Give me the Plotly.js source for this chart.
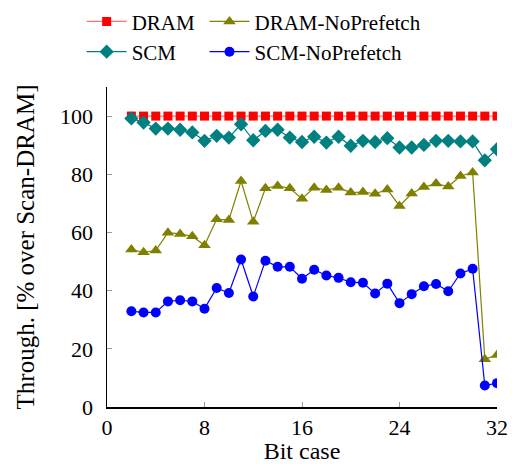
<!DOCTYPE html>
<html>
<head>
<meta charset="utf-8">
<script src="https://cdn.plot.ly/plotly-3.0.1.min.js"></script>
<style>html,body{margin:0;padding:0;background:#fff;}#chart{width:512px;height:464px;}</style>
</head>
<body>
<div id="chart"></div>
<script>
const bitCase = [2,3,4,5,6,7,8,9,10,11,12,13,14,15,16,17,18,19,20,21,22,23,24,25,26,27,28,29,30,31,32];
const dram = [100,100,100,100,100,100,100,100,100,100,100,100,100,100,100,100,100,100,100,100,100,100,100,100,100,100,100,100,100,100,100];
const dramNoPrefetch = [54.1,53.2,53.8,59.9,59.5,58.7,55.6,64.5,64.3,77.7,63.7,75.2,76.0,75.2,71.6,75.4,74.6,75.4,73.7,73.9,73.3,74.8,69.1,73.4,75.6,76.8,75.8,79.4,80.6,16.4,17.9];
const scm = [99.2,97.8,95.7,95.7,95.3,94.4,91.5,93.2,92.6,97.2,91.7,94.9,95.3,92.6,91.1,92.9,90.9,92.9,89.8,91.5,91.1,92.4,89.2,89.2,90.1,91.5,91.5,91.3,91.3,84.8,88.6];
const scmNoPrefetch = [32.9,32.5,32.5,36.3,36.7,36.3,33.8,40.9,39.2,50.7,38.0,50.3,48.2,48.2,44.1,47.2,45.2,44.4,42.9,42.7,39.0,42.4,35.7,38.8,41.5,42.3,39.8,45.9,47.5,7.4,8.2];
const xTicks = [0,8,16,24,32];
const yTicks = [0,20,40,60,80,100];

const F = 'Liberation Serif';
const traces = [
  {x: bitCase, y: dram, name: 'DRAM', mode: 'lines+markers', legend: 'legend',
   line: {color: 'rgba(255,0,0,0.55)', width: 1.3}, marker: {symbol: 'square', size: 9, color: '#ff0000'}},
  {x: bitCase, y: dramNoPrefetch, name: 'DRAM-NoPrefetch', mode: 'lines+markers', legend: 'legend2',
   line: {color: '#808000', width: 1.2}, marker: {symbol: 'triangle-up', size: 11, color: '#808000'}},
  {x: bitCase, y: scm, name: 'SCM', mode: 'lines+markers', legend: 'legend',
   line: {color: '#008080', width: 1.2}, marker: {symbol: 'diamond', size: 11, color: '#008080'}},
  {x: bitCase, y: scmNoPrefetch, name: 'SCM-NoPrefetch', mode: 'lines+markers', legend: 'legend2',
   line: {color: '#0000ff', width: 1.2}, marker: {symbol: 'circle', size: 10, color: '#0000ff'}}
];

const legendBase = {xref: 'paper', yref: 'paper', y: 1.268, yanchor: 'top', xanchor: 'left',
  font: {family: F, size: 21, color: '#000'}, bgcolor: 'rgba(0,0,0,0)', tracegroupgap: 0, itemwidth: 40};

const layout = {
  width: 512, height: 464,
  margin: {l: 107, r: 15, t: 87, b: 57, autoexpand: false},
  paper_bgcolor: '#fff', plot_bgcolor: '#fff',
  font: {family: F, size: 22, color: '#000'},
  showlegend: true,
  legend: Object.assign({}, legendBase, {x: -0.065}),
  legend2: Object.assign({}, legendBase, {x: 0.25}),
  xaxis: {range: [0, 32], tickvals: xTicks, ticktext: xTicks.map(String), ticks: 'inside', ticklen: 5, tickcolor: '#999',
          showline: true, linecolor: '#000', linewidth: 1.5, showgrid: false, zeroline: false, automargin: false,
          title: {text: 'Bit case', font: {family: F, size: 24}, standoff: 12}, tickfont: {family: F, size: 22}},
  yaxis: {range: [0, 110], tickvals: yTicks, ticktext: yTicks.map(String), ticks: 'inside', ticklen: 5, tickcolor: '#999',
          showline: true, linecolor: '#000', linewidth: 1.5, showgrid: false, zeroline: false, automargin: false,
          title: {text: 'Through. [% over Scan-DRAM]', font: {family: F, size: 25}, standoff: 18}, tickfont: {family: F, size: 22},
          ticklabelstandoff: 8}
};
Plotly.newPlot('chart', traces, layout, {displayModeBar: false, staticPlot: true});
</script>
</body>
</html>
